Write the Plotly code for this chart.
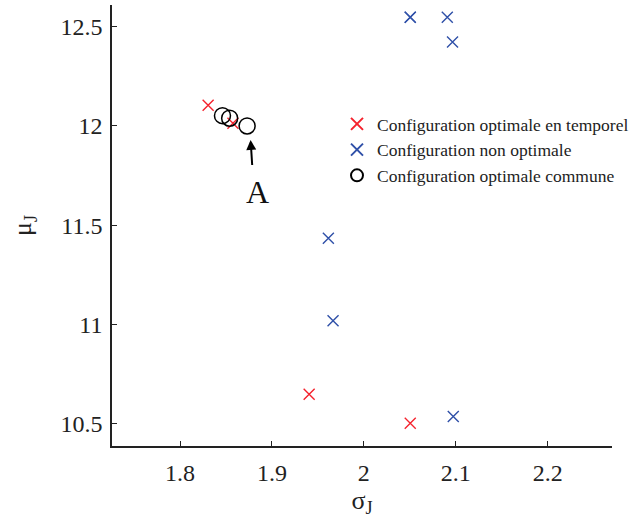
import plotly.graph_objects as go

# Data
red_x = [1.8306, 1.8576, 1.9405, 2.0505]
red_y = [12.104, 12.014, 10.650, 10.503]

blue_x = [2.0505, 2.0505, 2.0908, 2.0965, 1.9614, 1.9665, 2.0973]
blue_y = [12.547, 12.547, 12.547, 12.423, 11.435, 11.020, 10.537]

circ_x = [1.8462, 1.8540, 1.8730]
circ_y = [12.052, 12.039, 12.000]

names = ["Configuration optimale en temporel",
         "Configuration non optimale",
         "Configuration optimale commune"]

x_ticks = [1.8, 1.9, 2.0, 2.1, 2.2]
x_tick_labels = ["1.8", "1.9", "2", "2.1", "2.2"]
y_ticks = [10.5, 11.0, 11.5, 12.0, 12.5]
y_tick_labels = ["10.5", "11", "11.5", "12", "12.5"]

FONT = "Liberation Serif"
RED = "#f5222d"
BLUE = "#2f50a8"
TXT = "#222222"

fig = go.Figure()
fig.add_trace(go.Scatter(x=red_x, y=red_y, mode="markers", name=names[0],
                         marker=dict(symbol="x-thin", size=11, line=dict(color=RED, width=1.4), color=RED)))
fig.add_trace(go.Scatter(x=blue_x, y=blue_y, mode="markers", name=names[1],
                         marker=dict(symbol="x-thin", size=11, line=dict(color=BLUE, width=1.4), color=BLUE)))
fig.add_trace(go.Scatter(x=circ_x, y=circ_y, mode="markers", name=names[2],
                         marker=dict(symbol="circle-open", size=16, line=dict(color="black", width=1.5), color="black")))

# Arrow pointing at "A"
fig.add_annotation(x=1.8768, y=11.93, ax=1.879, ay=11.768, xref="x", yref="y",
                   axref="x", ayref="y", text=" ", showarrow=True,
                   arrowhead=2, arrowsize=1, arrowwidth=2, arrowcolor="black",
                   font=dict(family=FONT, size=10))
fig.add_annotation(x=1.8843, y=11.668, xref="x", yref="y", text="A", showarrow=False,
                   font=dict(family=FONT, size=32, color="#111"))

fig.update_layout(
    width=639, height=525,
    margin=dict(l=112, r=24, t=5, b=79),
    paper_bgcolor="white", plot_bgcolor="white",
    font=dict(family=FONT, color=TXT),
    legend=dict(x=0.45, y=0.771, xanchor="left", yanchor="top",
                bgcolor="rgba(0,0,0,0)", font=dict(family=FONT, size=17.5, color=TXT),
                itemsizing="constant", tracegroupgap=0, itemwidth=30),
    showlegend=True,
)
fig.update_xaxes(range=[1.726, 2.27], tickmode="array", tickvals=x_ticks, ticktext=x_tick_labels,
                 ticks="inside", ticklen=5, tickwidth=1.2, tickcolor=TXT, ticklabelstandoff=4,
                 showline=True, linecolor=TXT, linewidth=1.5, showgrid=False, zeroline=False,
                 tickfont=dict(family=FONT, size=24, color=TXT),
                 title=dict(text="σ<sub>J</sub>", font=dict(family=FONT, size=26, color=TXT), standoff=6))
fig.update_yaxes(range=[10.389, 12.609], tickmode="array", tickvals=y_ticks, ticktext=y_tick_labels,
                 ticks="inside", ticklen=5, tickwidth=1.2, tickcolor=TXT, ticklabelstandoff=3,
                 showline=True, linecolor=TXT, linewidth=1.5, showgrid=False, zeroline=False,
                 tickfont=dict(family=FONT, size=24, color=TXT),
                 title=dict(text="μ<sub>J</sub>", font=dict(family=FONT, size=26, color=TXT), standoff=21))

fig.write_html("out.html", config={"displayModeBar": False},
               post_script="document.body.style.margin='0';")
